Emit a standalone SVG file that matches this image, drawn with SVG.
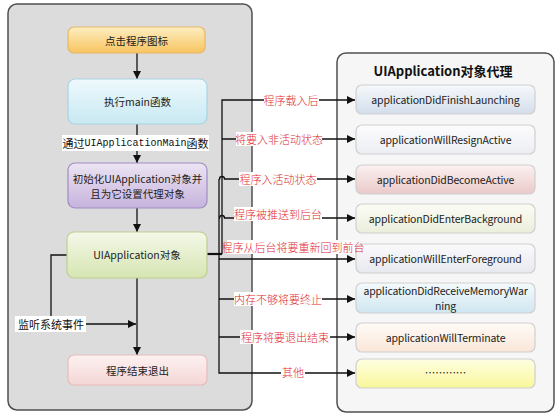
<svg xmlns="http://www.w3.org/2000/svg" width="558" height="414" viewBox="0 0 558 414">
<defs>
  <linearGradient id="gOrange" x1="0" y1="0" x2="0" y2="1"><stop offset="0" stop-color="#fdeec0"/><stop offset="1" stop-color="#f8c460"/></linearGradient>
  <linearGradient id="gCyan" x1="0" y1="0" x2="0" y2="1"><stop offset="0" stop-color="#eef9fc"/><stop offset="1" stop-color="#c8e9f3"/></linearGradient>
  <linearGradient id="gPurple" x1="0" y1="0" x2="0" y2="1"><stop offset="0" stop-color="#ece4f3"/><stop offset="1" stop-color="#c6b3dd"/></linearGradient>
  <linearGradient id="gGreen" x1="0" y1="0" x2="0" y2="1"><stop offset="0" stop-color="#f4f8e8"/><stop offset="1" stop-color="#d6e5b2"/></linearGradient>
  <linearGradient id="gPink" x1="0" y1="0" x2="0" y2="1"><stop offset="0" stop-color="#fdf1f1"/><stop offset="1" stop-color="#f4d6d6"/></linearGradient>
  <linearGradient id="r1" x1="0" y1="0" x2="0" y2="1"><stop offset="0" stop-color="#f6f8fb"/><stop offset="1" stop-color="#d3deeb"/></linearGradient>
  <linearGradient id="r2" x1="0" y1="0" x2="0" y2="1"><stop offset="0" stop-color="#fcfcfd"/><stop offset="1" stop-color="#eceef3"/></linearGradient>
  <linearGradient id="r3" x1="0" y1="0" x2="0" y2="1"><stop offset="0" stop-color="#fbf1f1"/><stop offset="1" stop-color="#ebc9c9"/></linearGradient>
  <linearGradient id="r4" x1="0" y1="0" x2="0" y2="1"><stop offset="0" stop-color="#fcfcf6"/><stop offset="1" stop-color="#eaeedb"/></linearGradient>
  <linearGradient id="r5" x1="0" y1="0" x2="0" y2="1"><stop offset="0" stop-color="#fafafc"/><stop offset="1" stop-color="#e8e9ef"/></linearGradient>
  <linearGradient id="r6" x1="0" y1="0" x2="0" y2="1"><stop offset="0" stop-color="#f5fafc"/><stop offset="1" stop-color="#cfe6f0"/></linearGradient>
  <linearGradient id="r7" x1="0" y1="0" x2="0" y2="1"><stop offset="0" stop-color="#fffbf7"/><stop offset="1" stop-color="#fae6d8"/></linearGradient>
  <linearGradient id="r8" x1="0" y1="0" x2="0" y2="1"><stop offset="0" stop-color="#ffffe2"/><stop offset="1" stop-color="#f9f79a"/></linearGradient>
  <marker id="arr" viewBox="0 0 10 10" refX="10" refY="5" markerWidth="8" markerHeight="8" markerUnits="userSpaceOnUse" orient="auto">
    <path d="M0,0 L10,5 L0,10 z" fill="#111"/>
  </marker>
</defs>
<style>
  text { font-family: "Noto Sans CJK SC", "Noto Sans", sans-serif; }
  .node text { font-size: 10.5px; fill: #222; text-anchor: middle; dominant-baseline: central; }
  .rn text { letter-spacing: -0.15px; }
  .rn rect { stroke: #cfcfcf; stroke-width: 1.2; }
  .ln rect { stroke-width: 1.2; }
  .conn path, .conn line { stroke: #111; stroke-width: 1.3; fill: none; }
  .lbl text { font-size: 11px; font-weight: 300; fill: #e0282c; text-anchor: middle; dominant-baseline: central; }
  .lbl rect { fill: #ffffff; }
  .blk text { fill: #111; font-weight: 400; }
</style>

<!-- containers -->
<g id="left-container">
  <rect x="8" y="4" width="244" height="406" rx="9" fill="#dcdcdc" stroke="#505050" stroke-width="1.5"/>
</g>
<g id="right-container">
  <rect x="337" y="53" width="217" height="359" rx="9" fill="#f6f6f6" stroke="#505050" stroke-width="1.5"/>
  <text x="443" y="70" font-size="13" font-weight="bold" fill="#111" text-anchor="middle" dominant-baseline="central">UIApplication对象代理</text>
</g>

<!-- connectors -->
<g id="connectors" class="conn">
  <line x1="137" y1="53" x2="137" y2="79" marker-end="url(#arr)"/>
  <line x1="137" y1="124" x2="137" y2="163" marker-end="url(#arr)"/>
  <line x1="137" y1="208" x2="137" y2="232" marker-end="url(#arr)"/>
  <line x1="137" y1="278" x2="137" y2="355" marker-end="url(#arr)"/>
  <path d="M67,255 H51 V317"/>
  <line x1="86" y1="324" x2="136" y2="324" marker-end="url(#arr)"/>
  <path d="M207,254 H222" style="stroke-width:2.2"/>
  <path d="M222,254 V100 H355" marker-end="url(#arr)"/>
  <path d="M222,139 H355" marker-end="url(#arr)"/>
  <path d="M219,179 V373 H355" marker-end="url(#arr)"/>
  <path d="M219,179 H219.5 A2.5,2.5 0 0 1 224.5,179 H355" marker-end="url(#arr)"/>
  <path d="M219,218 H219.5 A2.5,2.5 0 0 1 224.5,218 H355" marker-end="url(#arr)"/>
  <path d="M219,259 H355" marker-end="url(#arr)"/>
  <path d="M219,299 H355" marker-end="url(#arr)"/>
  <path d="M219,337 H355" marker-end="url(#arr)"/>
</g>

<!-- left nodes -->
<g id="n-click" class="node ln">
  <rect x="68" y="27" width="137" height="26" rx="6" fill="url(#gOrange)" stroke="#e6b868"/>
  <text x="136.5" y="40">点击程序图标</text>
</g>
<g id="n-main" class="node ln">
  <rect x="68" y="79" width="139" height="45" rx="7" fill="url(#gCyan)" stroke="#a8d4e2"/>
  <text x="137.5" y="101">执行main函数</text>
</g>
<g id="n-init" class="node ln">
  <rect x="68" y="163" width="139" height="45" rx="7" fill="url(#gPurple)" stroke="#a08cc2"/>
  <text x="137.5" y="178">初始化UIApplication对象并</text>
  <text x="137.5" y="193.5">且为它设置代理对象</text>
</g>
<g id="n-app" class="node ln">
  <rect x="67" y="232" width="140" height="46" rx="7" fill="url(#gGreen)" stroke="#bccf92"/>
  <text x="137" y="254">UIApplication对象</text>
</g>
<g id="n-end" class="node ln">
  <rect x="68" y="355" width="139" height="30" rx="6" fill="url(#gPink)" stroke="#e6bcbc"/>
  <text x="137.5" y="370">程序结束退出</text>
</g>

<!-- right nodes -->
<g id="d-finish" class="node rn">
  <rect x="356" y="85" width="179" height="29" rx="6" fill="url(#r1)"/>
  <text x="445.5" y="99.5">applicationDidFinishLaunching</text>
</g>
<g id="d-resign" class="node rn">
  <rect x="356" y="125" width="179" height="29" rx="6" fill="url(#r2)"/>
  <text x="445.5" y="139.5">applicationWillResignActive</text>
</g>
<g id="d-become" class="node rn">
  <rect x="356" y="165" width="179" height="29" rx="6" fill="url(#r3)"/>
  <text x="445.5" y="179">applicationDidBecomeActive</text>
</g>
<g id="d-background" class="node rn">
  <rect x="356" y="204" width="179" height="29" rx="6" fill="url(#r4)"/>
  <text x="445.5" y="218.5">applicationDidEnterBackground</text>
</g>
<g id="d-foreground" class="node rn">
  <rect x="356" y="244" width="179" height="29" rx="6" fill="url(#r5)"/>
  <text x="445.5" y="258.5">applicationWillEnterForeground</text>
</g>
<g id="d-memory" class="node rn">
  <rect x="356" y="283" width="179" height="30" rx="6" fill="url(#r6)"/>
  <text x="445.5" y="290.5">applicationDidReceiveMemoryWar</text>
  <text x="445.5" y="305.5">ning</text>
</g>
<g id="d-terminate" class="node rn">
  <rect x="356" y="323" width="179" height="29" rx="6" fill="url(#r7)"/>
  <text x="445.5" y="337">applicationWillTerminate</text>
</g>
<g id="d-other" class="node rn">
  <rect x="356" y="359" width="179" height="29" rx="6" fill="url(#r8)" stroke="#d8d8b0"/>
  <text x="445.5" y="372" font-family="Liberation Sans, sans-serif">…………</text>
</g>

<!-- connector labels -->
<g id="labels" class="lbl">
  <rect x="264" y="93" width="55" height="14"/><text x="291" y="100">程序载入后</text>
  <rect x="236" y="132" width="86" height="14"/><text x="279" y="139">将要入非活动状态</text>
  <rect x="239" y="172" width="78" height="14"/><text x="278" y="179">程序入活动状态</text>
  <rect x="234" y="207" width="88" height="14"/><text x="278" y="214">程序被推送到后台</text>
  <rect x="227" y="240" width="128" height="14"/><text x="293" y="247">程序从后台将要重新回到前台</text>
  <rect x="234" y="292" width="88" height="14"/><text x="278" y="299">内存不够将要终止</text>
  <rect x="240" y="330" width="90" height="14"/><text x="285" y="337">程序将要退出结束</text>
  <rect x="281" y="365" width="24" height="14"/><text x="293" y="372">其他</text>
</g>
<g id="label-main" class="lbl blk">
  <rect x="62" y="135" width="147" height="16"/>
  <text x="135.5" y="143">通过<tspan font-family="Liberation Mono, monospace" font-size="10">UIApplicationMain</tspan>函数</text>
</g>
<g id="label-listen" class="lbl blk">
  <rect x="15" y="316" width="71" height="16"/>
  <text x="51" y="324" font-size="12">监听系统事件</text>
</g>
</svg>
